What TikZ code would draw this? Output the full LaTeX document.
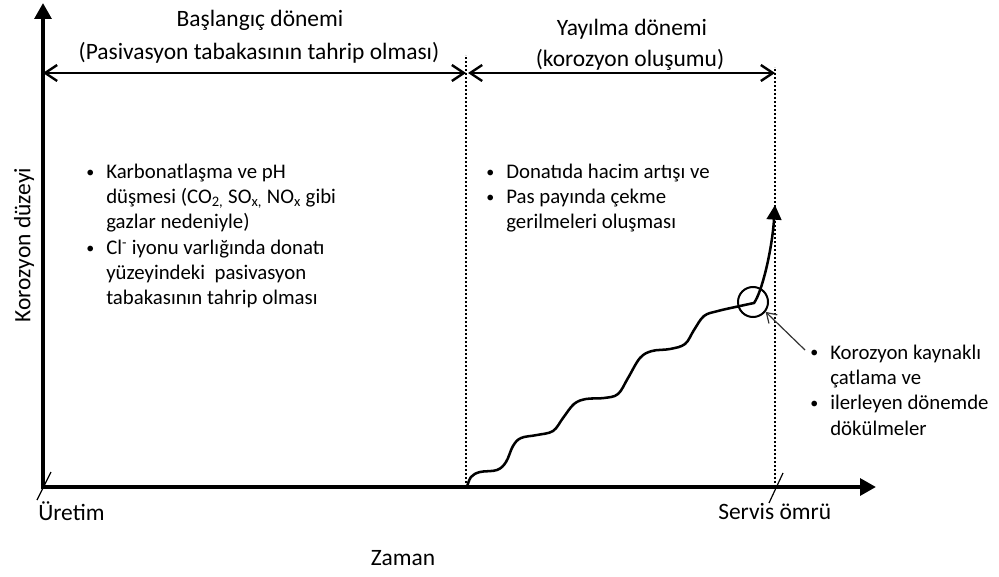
\documentclass[tikz,border=0pt]{standalone}
\usepackage{fontspec}
\setmainfont{Carlito}
\usetikzlibrary{arrows.meta}
\newcommand\lstbul{\makebox[15pt][l]{\raisebox{1pt}{\fontsize{12}{12}\selectfont •}}}
\newcommand\lstind{\hspace*{15pt}}
\begin{document}
\begin{tikzpicture}[x=0.75pt,y=-0.75pt,
    txt/.style={inner sep=0pt,font=\fontsize{17.6}{19}\selectfont},
    list/.style={inner sep=0pt,anchor=base west,align=left,font=\fontsize{15.6}{19}\selectfont},
    axis/.style={line width=3pt,{Triangle[length=12pt,width=12.5pt]}-{Triangle[length=12pt,width=12.5pt]}},
    span/.style={line width=1.8pt,{Straight Barb[length=9pt,width=12pt]}-{Straight Barb[length=9pt,width=12pt]}},
    border/.style={line width=1.4pt,dash pattern=on 1.4pt off 1.6pt},
    tick/.style={line width=0.9pt}]
  \useasboundingbox (0,0) rectangle (999,577);
  \coordinate (O) at (43,487);
  \coordinate (S) at (466,487);
  \coordinate (L) at (775,487);
  \coordinate (stop) at (466,55);
  \coordinate (ltop) at (775,67);
  \coordinate (ot) at (43,73);
  \coordinate (st) at (466,73);
  \coordinate (st2) at (468,73);
  \coordinate (lt) at (775,73);
  \draw[border] (S) -- (stop);
  \draw[border] (L) -- (ltop);
  \draw[axis] (43,3) -- (O) -- (876,487);
  \draw[tick] ([shift={(-6,13)}]O) -- ([shift={(8,-15)}]O);
  \draw[tick] ([shift={(-6,16)}]L) -- ([shift={(8,-14)}]L);
  \draw[span] (ot) -- (st);
  \draw[span] (st2) -- (lt);
  \node[txt,anchor=base] (init) at (260,27) {Başlangıç dönemi};
  \node[txt,anchor=base] (initsub) at (259,60) {(Pasivasyon tabakasının tahrip olması)};
  \node[txt,anchor=base] (prop) at (632,36) {Yayılma dönemi};
  \node[txt,anchor=base] (propsub) at (630,67) {(korozyon oluşumu)};
  \node[list] (causes) at (86,305) {\lstbul Karbonatlaşma ve pH\\
    \lstind düşmesi (CO\textsubscript{2,} SO\textsubscript{x,} NO\textsubscript{x} gibi\\
    \lstind gazlar nedeniyle)\\
    \lstbul Cl\textsuperscript{-} iyonu varlığında donatı\\
    \lstind yüzeyindeki~ pasivasyon\\
    \lstind tabakasının tahrip olması};
  \node[list] (effects) at (486,229) {\lstbul Donatıda hacim artışı ve\\
    \lstbul Pas payında çekme\\
    \lstind gerilmeleri oluşması};
  \node[list] (cracks) at (810,435) {\lstbul Korozyon kaynaklı\\
    \lstind çatlama ve\\
    \lstbul ilerleyen dönemde\\
    \lstind dökülmeler};
  \node[txt,rotate=90] (ylab) at (24,245) {Korozyon düzeyi};
  \node[txt,anchor=base west] (prod) at (38,520) {Üretim};
  \node[txt,anchor=base west] (life) at (718,519) {Servis ömrü};
  \node[txt,anchor=base] (xlab) at (403,565) {Zaman};
  \draw[line width=1.9pt,-{Triangle[length=11pt,width=11pt]}]
    plot[smooth,tension=0.6] coordinates {(467,487) (471,477) (480,472) (497,470)
      (506,462) (513,446) (521,438) (537,435) (553,431) (563,418) (574,404)
      (586,399) (604,398) (618,394) (628,378) (640,358) (652,351) (670,349)
      (685,344) (694,330) (704,316) (718,311) (740,306) (754,303)}
    .. controls (762,292) and (772,250) .. (775,205);
  \node[circle,draw,line width=1.5pt,minimum size=22.5pt,inner sep=0pt] (crack) at (753,302) {};
  \coordinate (lead) at (805,350);
  \draw[line width=0.9pt,black!80,-{Straight Barb[length=7pt,width=9pt]}] (lead) -- (crack.-38);
\end{tikzpicture}
\end{document}
